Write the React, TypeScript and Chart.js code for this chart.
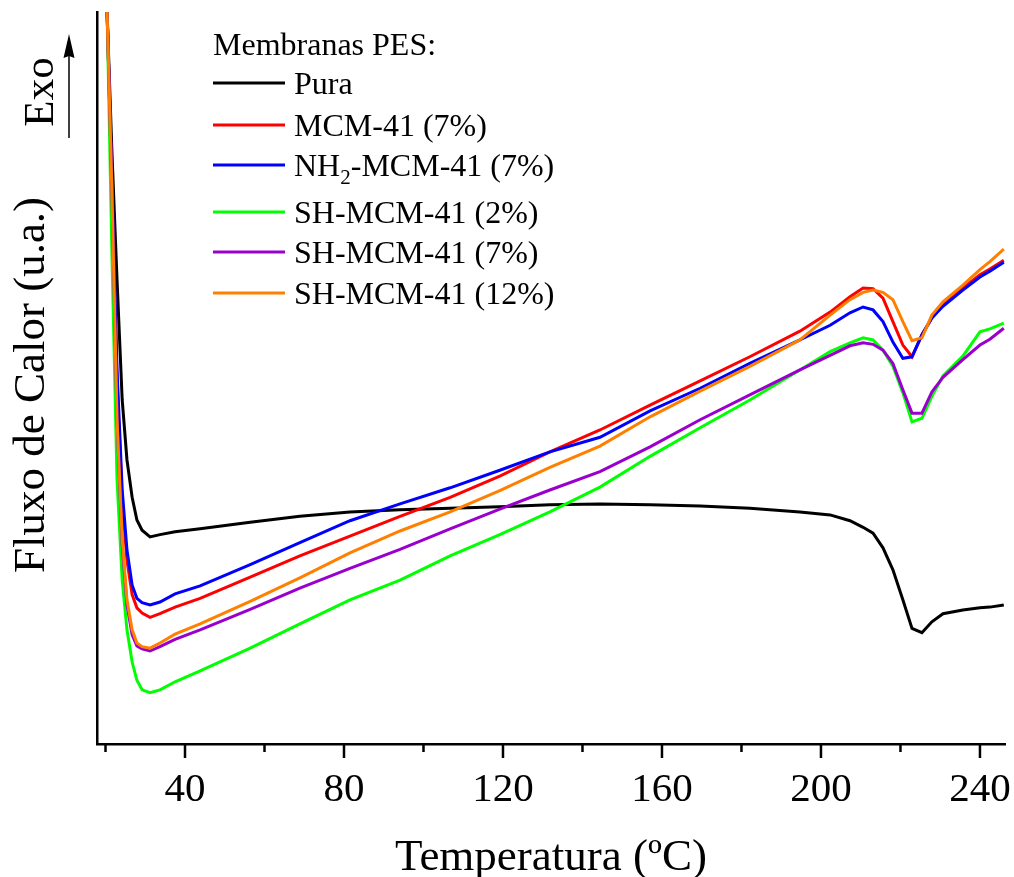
import React, { useEffect, useRef } from "react";
import { Chart, registerables } from "chart.js";

Chart.register(...registerables);

const temperatures = [
  20.4, 21.6, 22.9, 24.2, 25.4, 26.7, 27.9, 29.2, 31.2, 33.7, 37.5, 43.8, 56.4, 68.9, 81.5, 94.1,
  106.7, 119.2, 131.8, 144.4, 157.0, 169.6, 182.1, 194.7, 202.3, 207.3, 210.6, 213.1, 215.6,
  218.1, 220.6, 222.9, 225.4, 227.9, 230.7, 235.7, 240.0, 242.5, 246.0,
];

const pura = [
  100, 81.1, 63.4, 47.0, 38.8, 33.7, 30.6, 29.2, 28.3, 28.6, 29.0, 29.4, 30.3, 31.1, 31.7, 32.0,
  32.2, 32.4, 32.7, 32.8, 32.7, 32.5, 32.2, 31.7, 31.3, 30.5, 29.6, 28.8, 26.8, 23.8, 19.7, 15.8,
  15.2, 16.7, 17.8, 18.3, 18.6, 18.7, 19.0,
];
const mcm7 = [
  100, 77.0, 49.7, 33.3, 25.1, 20.4, 18.6, 17.9, 17.3, 17.8, 18.7, 19.9, 22.8, 25.7, 28.4, 31.1,
  33.7, 36.6, 39.9, 42.9, 46.3, 49.6, 52.9, 56.4, 59.0, 61.1, 62.3, 62.2, 60.9, 57.7, 54.5, 52.9,
  55.9, 58.2, 60.0, 62.3, 64.1, 64.9, 66.1,
];
const nh2mcm7 = [
  100, 77.0, 51.1, 34.7, 26.5, 21.7, 19.9, 19.3, 19.0, 19.4, 20.5, 21.6, 24.5, 27.5, 30.5, 32.8,
  35.0, 37.4, 39.9, 41.9, 45.5, 48.6, 52.0, 55.2, 57.2, 58.9, 59.7, 59.3, 57.7, 54.9, 52.7, 52.9,
  55.9, 58.2, 59.8, 62.0, 63.8, 64.6, 65.8,
];
const sh2 = [
  100, 67.5, 36.1, 22.4, 15.6, 11.2, 8.7, 7.4, 7.0, 7.4, 8.5, 10.0, 13.1, 16.4, 19.7, 22.4, 25.7,
  28.6, 31.7, 35.1, 39.3, 43.2, 47.0, 51.1, 53.6, 54.8, 55.5, 55.2, 53.8, 51.6, 48.0, 44.0, 44.5,
  47.5, 50.3, 53.0, 56.3, 56.7, 57.5,
];
const sh7 = [
  100, 75.7, 44.3, 27.2, 19.0, 14.9, 13.4, 13.0, 12.7, 13.3, 14.3, 15.6, 18.4, 21.3, 24.0, 26.6,
  29.4, 32.1, 34.7, 37.2, 40.6, 44.3, 47.7, 51.1, 53.1, 54.4, 54.8, 54.6, 53.8, 52.0, 48.4, 45.2,
  45.2, 48.1, 50.1, 52.5, 54.5, 55.3, 56.8,
];
const sh12 = [
  100, 75.7, 44.3, 27.9, 19.7, 15.6, 13.8, 13.3, 13.1, 13.8, 15.0, 16.4, 19.5, 22.7, 26.1, 29.1,
  31.7, 34.6, 37.8, 40.7, 44.7, 48.2, 51.6, 55.2, 58.6, 60.7, 61.7, 62.0, 61.7, 60.7, 57.7, 55.1,
  55.5, 58.6, 60.4, 62.7, 64.8, 65.9, 67.6,
];

const seriesNames = ["Pura", "MCM-41 (7%)", "NH2-MCM-41 (7%)", "SH-MCM-41 (2%)", "SH-MCM-41 (7%)", "SH-MCM-41 (12%)"];
const seriesValues = [pura, mcm7, nh2mcm7, sh2, sh7, sh12];
const seriesColors = ["#000000", "#ff0000", "#0000ff", "#00ff00", "#9900cc", "#ff8000"];

const xTicks = [20, 40, 60, 80, 100, 120, 140, 160, 180, 200, 220, 240];
const legendTitle = "Membranas PES:";
const xTitle = "Temperatura (ºC)";
const yTitle = "Fluxo de Calor (u.a.)";
const exoLabel = "Exo";

const SERIF = "'Liberation Serif', 'Times New Roman', serif";

const overlayPlugin = {
  id: "overlay",
  afterDraw(chart: any) {
    const ctx = chart.ctx as CanvasRenderingContext2D;
    const xs = chart.scales.x;
    const area = chart.chartArea;
    ctx.save();
    ctx.fillStyle = "#000";
    ctx.strokeStyle = "#000";

    // x tick marks
    ctx.lineWidth = 2.5;
    xTicks.forEach((t) => {
      const px = xs.getPixelForValue(t);
      const len = t % 40 === 0 ? 14 : 8;
      ctx.beginPath();
      ctx.moveTo(px, area.bottom);
      ctx.lineTo(px, area.bottom + len);
      ctx.stroke();
    });

    // axis titles
    ctx.font = `45px ${SERIF}`;
    ctx.textAlign = "center";
    ctx.textBaseline = "alphabetic";
    ctx.fillText(xTitle, 551, 870);

    ctx.save();
    ctx.translate(44, 385);
    ctx.rotate(-Math.PI / 2);
    ctx.fillText(yTitle, 0, 0);
    ctx.restore();

    // Exo label and arrow
    ctx.font = `43px ${SERIF}`;
    ctx.save();
    ctx.translate(53, 92);
    ctx.rotate(-Math.PI / 2);
    ctx.fillText(exoLabel, 0, 0);
    ctx.restore();

    ctx.lineWidth = 1.5;
    ctx.beginPath();
    ctx.moveTo(69, 138);
    ctx.lineTo(69, 52);
    ctx.stroke();
    ctx.beginPath();
    ctx.moveTo(69, 34);
    ctx.lineTo(63.5, 58);
    ctx.lineTo(69, 56);
    ctx.lineTo(74.5, 58);
    ctx.closePath();
    ctx.fill();

    // legend
    ctx.textAlign = "left";
    ctx.font = `32px ${SERIF}`;
    ctx.fillText(legendTitle, 213, 55);
    const lineYs = [83, 125, 165, 212, 252, 293];
    ctx.lineWidth = 3;
    seriesNames.forEach((name, i) => {
      const y = lineYs[i];
      ctx.strokeStyle = seriesColors[i];
      ctx.beginPath();
      ctx.moveTo(213, y);
      ctx.lineTo(285, y);
      ctx.stroke();
      const base = y + 11;
      ctx.font = `32px ${SERIF}`;
      if (name.startsWith("NH2")) {
        let x = 294;
        ctx.fillText("NH", x, base);
        x += ctx.measureText("NH").width;
        ctx.font = `21px ${SERIF}`;
        ctx.fillText("2", x, base + 8);
        x += ctx.measureText("2").width;
        ctx.font = `32px ${SERIF}`;
        ctx.fillText(name.slice(3), x, base);
      } else {
        ctx.fillText(name, 294, base);
      }
    });
    ctx.restore();
  },
};

export default function App() {
  const canvasRef = useRef<HTMLCanvasElement | null>(null);

  useEffect(() => {
    const canvas = canvasRef.current;
    if (!canvas) return;
    const datasets = seriesNames.map((name, i) => ({
      label: name,
      data: temperatures.map((t, j) => ({ x: t, y: seriesValues[i][j] })),
      borderColor: seriesColors[i],
      backgroundColor: seriesColors[i],
      borderWidth: 3,
      pointRadius: 0,
      tension: 0,
      fill: false,
      order: seriesNames.length - i,
    }));
    const chart = new Chart(canvas, {
      type: "line",
      data: { datasets },
      options: {
        animation: false,
        responsive: false,
        devicePixelRatio: 1,
        layout: { padding: { top: 12, right: 9, left: 0, bottom: 0 } },
        plugins: { legend: { display: false }, tooltip: { enabled: false } },
        scales: {
          x: {
            type: "linear",
            min: 17.86,
            max: 246.3,
            grid: { display: false, drawTicks: false },
            border: { display: true, color: "#000", width: 2.5 },
            ticks: {
              stepSize: 20,
              includeBounds: false,
              autoSkip: false,
              maxRotation: 0,
              padding: 22,
              color: "#000",
              font: { family: SERIF, size: 41 },
              callback: (v: any) => (Number(v) % 40 === 0 ? String(v) : ""),
            },
            afterFit: (s: any) => {
              s.height = 133;
              s.paddingLeft = 0;
              s.paddingRight = 0;
            },
          },
          y: {
            type: "linear",
            min: 0,
            max: 100,
            grid: { display: false, drawTicks: false },
            border: { display: true, color: "#000", width: 2.5 },
            ticks: { display: false },
            afterFit: (s: any) => {
              s.width = 97;
              s.paddingTop = 0;
              s.paddingBottom = 0;
            },
          },
        },
      },
      plugins: [overlayPlugin],
    });
    return () => chart.destroy();
  }, []);

  return (
    <div style={{ position: "absolute", left: 0, top: 0, width: 1014, height: 877, background: "#fff" }}>
      <canvas ref={canvasRef} width={1014} height={877} style={{ display: "block" }} />
    </div>
  );
}
